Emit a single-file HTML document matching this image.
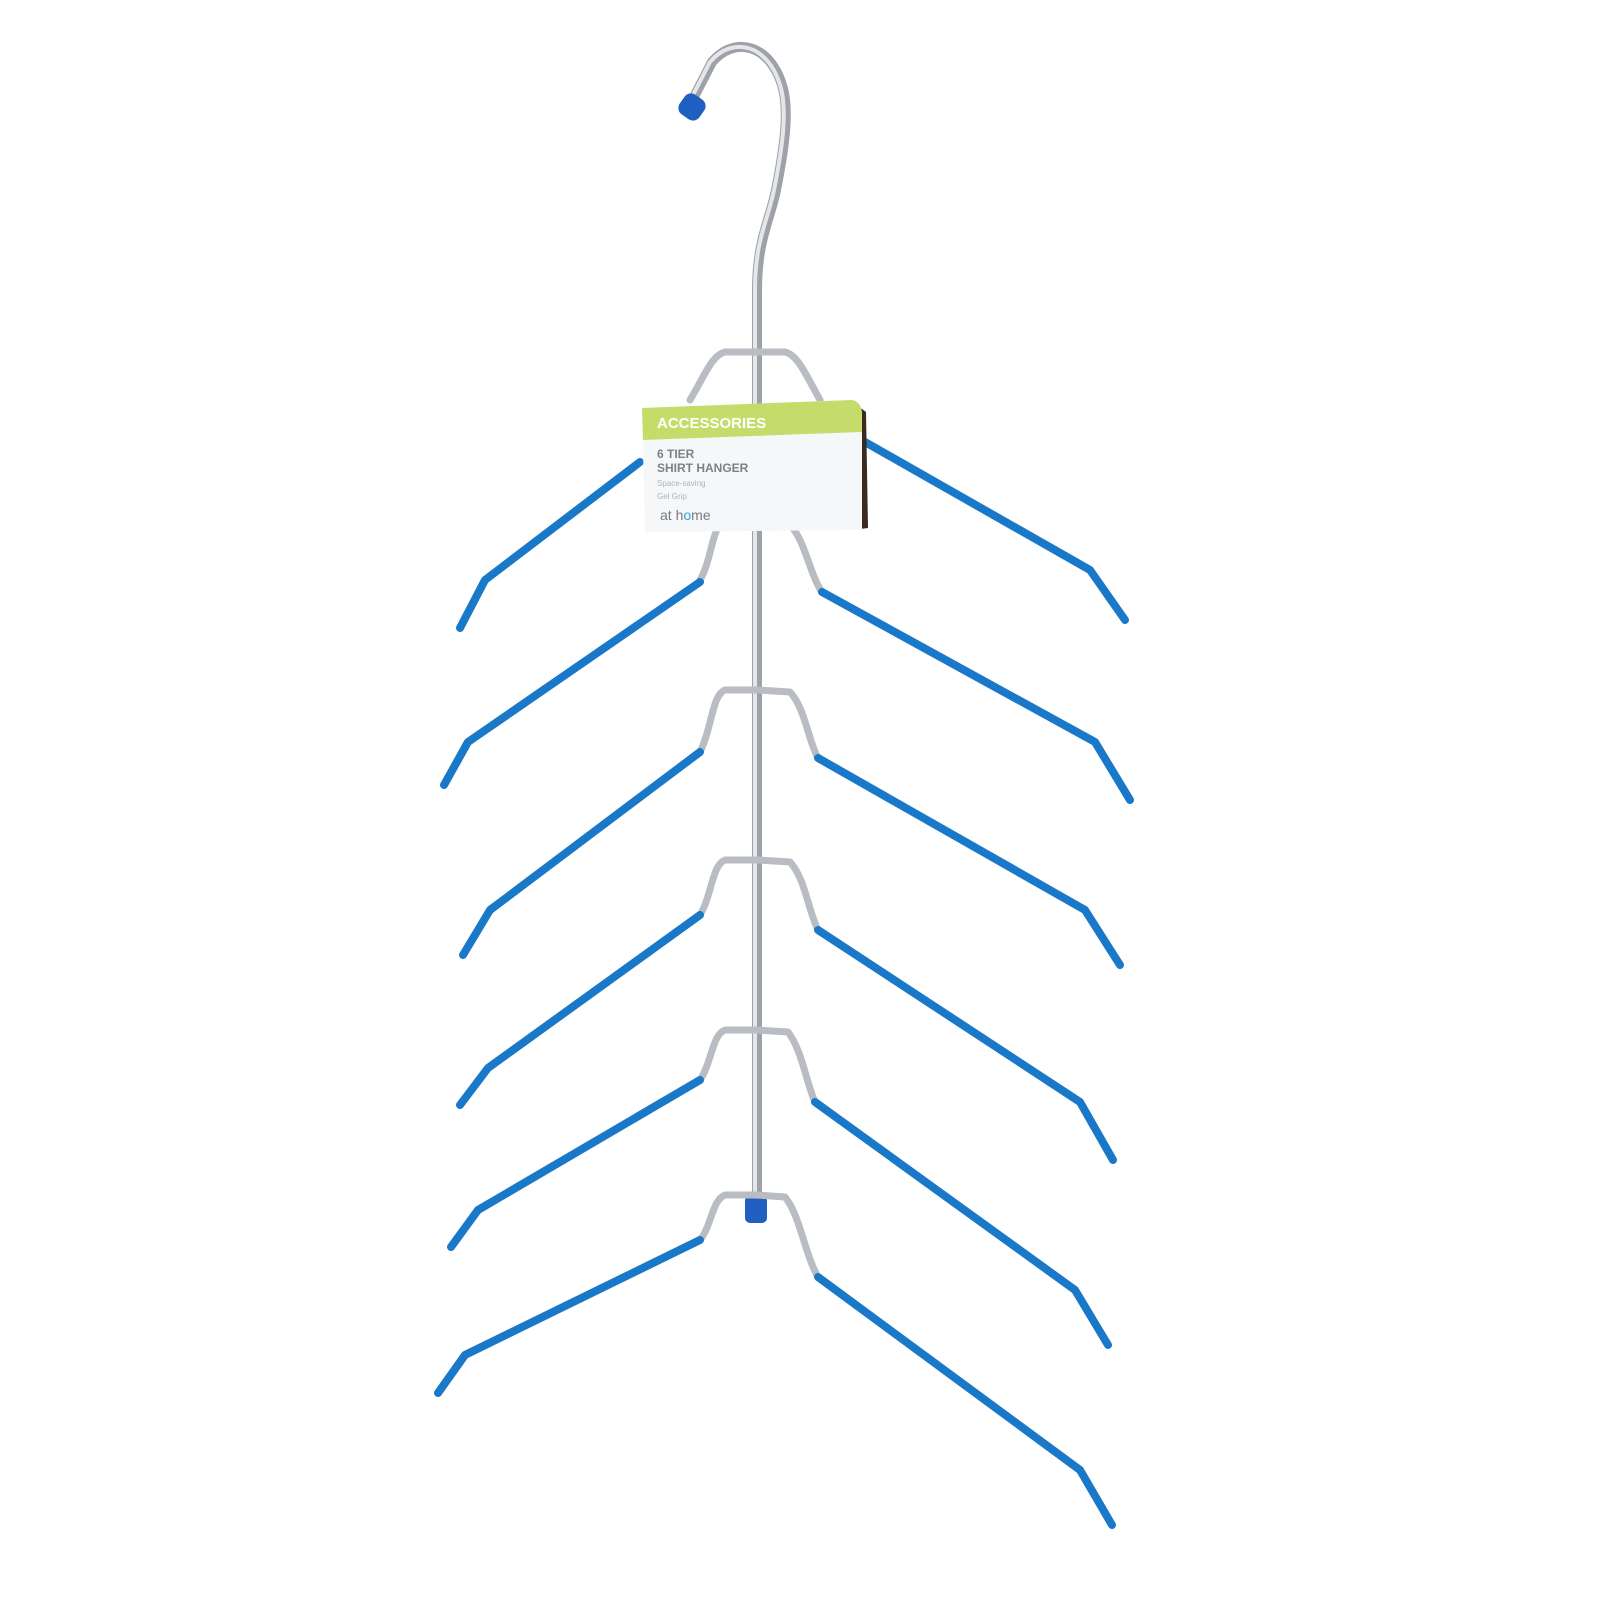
<!DOCTYPE html>
<html><head><meta charset="utf-8"><style>
html,body{margin:0;padding:0;background:#fff;width:1600px;height:1600px;overflow:hidden}
svg{display:block}
.s{fill:none;stroke:#b9bcc2;stroke-width:7;stroke-linecap:round;stroke-linejoin:round}
.b{fill:none;stroke:#1a78c8;stroke-width:8;stroke-linecap:round;stroke-linejoin:round}
</style></head><body>
<svg width="1600" height="1600" viewBox="0 0 1600 1600">
<g>
<path d="M757,1205 L757,290 C757,240 770,220 776,190 C784,150 790,110 782,85 C770,45 735,35 712,62 L695,95" fill="none" stroke="#9ea2a8" stroke-width="10" stroke-linecap="round"/>
<path d="M755,1205 L755,290 C755,240 768,220 774,190 C782,150 788,110 780,85 C768,45 733,35 710,62 L693,95" fill="none" stroke="#e4e6ea" stroke-width="4" stroke-linecap="round"/>
<rect x="680" y="95" width="24" height="24" rx="8" fill="#1f5fbf" transform="rotate(35 692 107)"/>
<rect x="745" y="1195" width="22" height="28" rx="5" fill="#1f5fbf"/>
</g>
<g>
<path class="s" d="M757,352 L725,352 C712,355 705,375 690,400 M757,352 L785,352 C798,355 806,375 820,400"/>
<path class="b" d="M640,462 L485,580 L460,628"/>
<path class="b" d="M865,442 L1090,570 L1125,620"/>
</g>
<g>
<path class="s" d="M757,520 L725,520 C712,525 712,560 700,580 M757,520 L790,525 C805,540 810,575 822,592"/>
<path class="b" d="M700,582 L468,742 L444,785"/>
<path class="b" d="M822,592 L1095,742 L1130,800"/>
</g>
<g>
<path class="s" d="M757,690 L725,690 C712,695 712,728 700,752 M757,690 L790,692 C805,708 808,740 818,758"/>
<path class="b" d="M700,752 L490,910 L463,955"/>
<path class="b" d="M818,758 L1085,910 L1120,965"/>
</g>
<g>
<path class="s" d="M757,860 L725,860 C712,865 712,895 700,915 M757,860 L790,862 C805,878 808,910 818,930"/>
<path class="b" d="M700,915 L488,1068 L460,1105"/>
<path class="b" d="M818,930 L1080,1102 L1113,1160"/>
</g>
<g>
<path class="s" d="M757,1030 L725,1030 C712,1035 712,1062 700,1080 M757,1030 L788,1032 C802,1050 806,1082 815,1102"/>
<path class="b" d="M700,1080 L478,1210 L451,1247"/>
<path class="b" d="M815,1102 L1075,1290 L1108,1345"/>
</g>
<g>
<path class="s" d="M757,1195 L725,1195 C712,1200 712,1225 700,1240 M757,1195 L785,1197 C800,1215 805,1255 818,1277"/>
<path class="b" d="M700,1240 L465,1355 L438,1393"/>
<path class="b" d="M818,1277 L1080,1470 L1112,1525"/>
</g>
<g>
<path d="M850,400 L866,412 L868,528 L852,530 Z" fill="#3a2a20"/>
<path d="M642,408 L852,400 Q862,402 862,415 L862,530 L645,532 Z" fill="#f6f7f9"/>
<path d="M642,408 L852,400 Q862,402 862,415 L862,432 L643,440 Z" fill="#c5dc6a"/>
<text x="657" y="428" font-family="Liberation Sans, sans-serif" font-size="15" font-weight="bold" fill="#fff">ACCESSORIES</text>
<text x="657" y="458" font-family="Liberation Sans, sans-serif" font-size="12" font-weight="bold" fill="#7d8088">6 TIER</text>
<text x="657" y="472" font-family="Liberation Sans, sans-serif" font-size="12" font-weight="bold" fill="#7d8088">SHIRT HANGER</text>
<text x="657" y="486" font-family="Liberation Sans, sans-serif" font-size="8" fill="#b0b2b8">Space-saving</text>
<text x="657" y="499" font-family="Liberation Sans, sans-serif" font-size="8" fill="#b0b2b8">Gel Grip</text>
<text x="660" y="520" font-family="Liberation Sans, sans-serif" font-size="14" fill="#777a80">at h<tspan fill="#2aa6d6">o</tspan>me</text>
</g>
</svg>
</body></html>
